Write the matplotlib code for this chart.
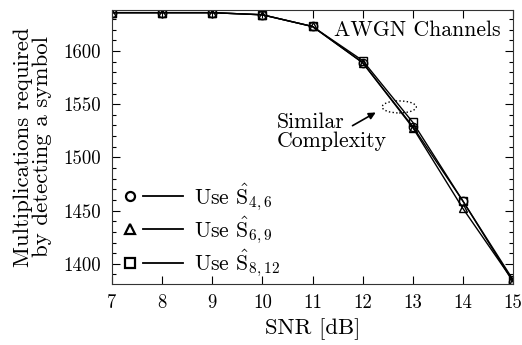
import matplotlib
matplotlib.use("Agg")
import matplotlib.pyplot as plt
from matplotlib.legend_handler import HandlerBase
from matplotlib.lines import Line2D
from matplotlib.patches import Ellipse
from matplotlib.ticker import MultipleLocator

plt.rcParams['font.family'] = 'serif'
plt.rcParams['font.serif'] = ['cmr10']
plt.rcParams['mathtext.fontset'] = 'cm'

# data
snr = [7, 8, 9, 10, 11, 12, 13, 14, 15]
mult_s46 = [1636, 1636, 1636, 1634, 1623, 1589, 1529, 1459, 1383]
mult_s69 = [1636, 1636, 1636, 1634, 1623, 1589, 1528, 1452, 1384]
mult_s812 = [1636, 1636, 1636, 1634, 1623, 1591, 1533, 1459, 1385]
labels = [r'Use $\hat{\mathrm{S}}_{4,6}$',
          r'Use $\hat{\mathrm{S}}_{6,9}$',
          r'Use $\hat{\mathrm{S}}_{8,12}$']
markers = ['o', '^', 's']


class MarkerThenLine(HandlerBase):
    # marker on the left, a short line after it (like the original legend)
    def create_artists(self, legend, orig_handle, xdescent, ydescent,
                       width, height, fontsize, trans):
        y = height / 2 - ydescent
        x0 = -xdescent
        mk = Line2D([x0 + 0.2 * width], [y], ls='none',
                    marker=orig_handle.get_marker(), ms=6.5, mfc='none',
                    mec='black', mew=1.6, transform=trans)
        ln = Line2D([x0 + 0.4 * width, x0 + width], [y, y], color='black',
                    lw=1.3, transform=trans)
        return [mk, ln]


fig = plt.figure(figsize=(5.22, 3.45), dpi=100)
ax = fig.add_axes([112 / 522, 1 - 284 / 345, 401 / 522, 274 / 345])

handles = []
for ys, m in zip([mult_s46, mult_s69, mult_s812], markers):
    line, = ax.plot(snr, ys, color='black', lw=1.0, marker=m, ms=6,
                    mfc='none', mec='black', mew=1.0)
    handles.append(line)

ax.set_xlim(7, 15)
ax.set_ylim(1381, 1638.5)
ax.set_xticks(snr)
ax.set_yticks([1400, 1450, 1500, 1550, 1600])
ax.yaxis.set_minor_locator(MultipleLocator(10))
ax.tick_params(direction='in', top=True, right=True, length=6, width=0.8)
ax.tick_params(which='minor', direction='in', right=True, length=3, width=0.8)
ax.tick_params(axis='x', pad=7, labelsize=13.5)
ax.tick_params(axis='y', pad=8, labelsize=13.5)
for s in ax.spines.values():
    s.set_linewidth(0.8)
    s.set_color('#333333')

ax.set_xlabel('SNR [dB]', fontsize=16.4, labelpad=5)
ax.set_ylabel('Multiplications required\nby detecting a symbol',
              fontsize=16.5, linespacing=0.95)
ax.yaxis.set_label_coords(-0.15, 0.5)

ax.text(0.968, 0.927, 'AWGN Channels', transform=ax.transAxes,
        ha='right', va='center', fontsize=15.7)
ax.text(10.29, 1524, 'Similar\nComplexity', ha='left', va='center',
        fontsize=15.7, linespacing=1.0)
ax.annotate('', xy=(12.31, 1543.5), xytext=(11.75, 1528.5),
            arrowprops=dict(arrowstyle='-|>', color='black', lw=1.2,
                            mutation_scale=10))
ax.add_patch(Ellipse((12.73, 1547.4), 0.68, 11.3, fill=False, ls=':',
                     lw=1.0, ec='black'))

ax.legend(handles, labels, loc='lower left', bbox_to_anchor=(0.0, 0.0),
          frameon=False, fontsize=15.7, handlelength=3.05, handletextpad=0.5,
          labelspacing=0.08, borderaxespad=0.0, borderpad=0.22,
          handler_map={Line2D: MarkerThenLine()})

fig.savefig('out.png', dpi=100)
